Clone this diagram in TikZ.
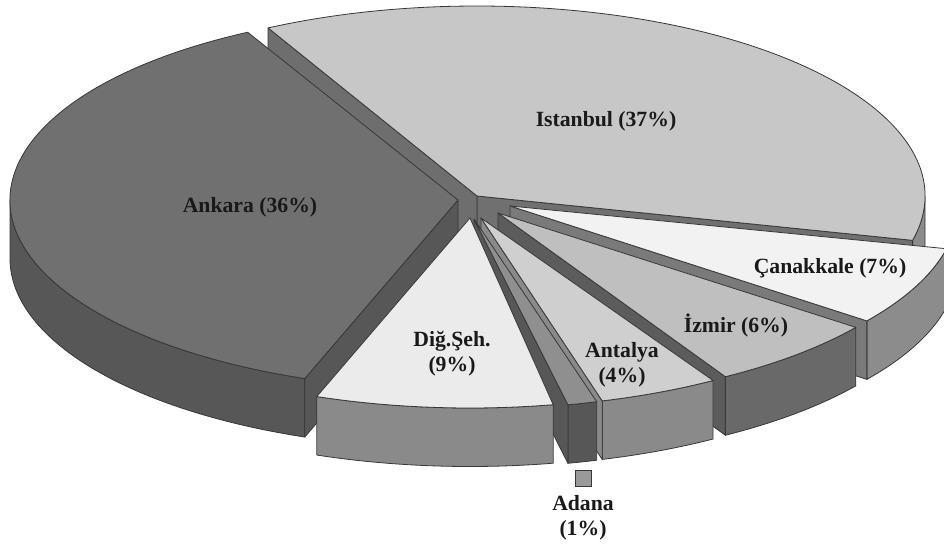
\documentclass[tikz,border=0pt]{standalone}
\usepackage{fontspec}
\setmainfont{Liberation Serif}
\begin{document}
\def\pieRX{448}
\def\pieRY{190}
\def\pieH{58.5}
\newcommand\sidewall[2]{%
  \filldraw[fill=#2,edgeline] (0,0) -- ({\pieRX*cos(#1)},{\pieRY*sin(#1)}) -- ({\pieRX*cos(#1)},{\pieRY*sin(#1)-\pieH}) -- (0,-\pieH) -- cycle;}
\newcommand\outerwall[3]{%
  \filldraw[fill=#3,edgeline] ({\pieRX*cos(#1)},{\pieRY*sin(#1)}) arc[start angle=#1,end angle=#2,x radius=\pieRX pt,y radius=\pieRY pt] -- ++(0,-\pieH) arc[start angle=#2,end angle=#1,x radius=\pieRX pt,y radius=\pieRY pt] -- cycle;}
\newcommand\topface[3]{%
  \filldraw[fill=#3,edgeline] (0,0) -- ({\pieRX*cos(#1)},{\pieRY*sin(#1)}) arc[start angle=#1,end angle=#2,x radius=\pieRX pt,y radius=\pieRY pt] -- cycle;}
\begin{tikzpicture}[x=1pt,y=1pt,
  edgeline/.style={draw=black!78,line width=0.8pt,line join=round},
  lbl/.style={font=\bfseries\fontsize{21.7}{25}\selectfont,align=center,inner sep=0pt,text=black!90}]
\useasboundingbox (0,0) rectangle (944,547);
\fill[white] (0,0) rectangle (944,547);
\clip (0,0) rectangle (944,547);
% Istanbul
\begin{scope}[shift={(477,351)}]
  \outerwall{-13.5}{0}{black!45}
  \sidewall{-13.5}{black!56}
  \sidewall{117.8}{black!57}
  \topface{-13.5}{117.8}{black!22}
\end{scope}
% Canakkale
\begin{scope}[shift={(510,341)}]
  \outerwall{322.8}{347}{black!45}
  \sidewall{322.8}{black!52}
  \topface{322.8}{347}{black!5}
\end{scope}
% Izmir
\begin{scope}[shift={(498,334)}]
  \outerwall{300.5}{323}{black!59}
  \sidewall{300.5}{black!64}
  \topface{300.5}{323}{black!25}
\end{scope}
% Antalya
\begin{scope}[shift={(481,329)}]
  \outerwall{285.7}{301.2}{black!46}
  \sidewall{285.7}{black!46}
  \topface{285.7}{301.2}{black!19}
\end{scope}
% Adana
\begin{scope}[shift={(474,328)}]
  \outerwall{282.1}{285.9}{black!66}
  \sidewall{282.1}{black!66}
  \topface{282.1}{285.9}{black!44}
\end{scope}
% Ankara
\begin{scope}[shift={(458,347)}]
  \outerwall{180}{250}{black!66}
  \sidewall{250}{black!66}
  \topface{118}{250}{black!56}
\end{scope}
% Dig.Seh.
\begin{scope}[shift={(470,329)}]
  \outerwall{250}{280.7}{black!46}
  \topface{250}{280.7}{black!8}
\end{scope}
% labels
\node[lbl] (istanbul) at (606,426) {Istanbul (37\%)};
\node[lbl] (ankara) at (250,340) {Ankara (36\%)};
\node[lbl] (canakkale) at (830,279) {Çanakkale (7\%)};
\node[lbl] (izmir) at (736,221) {İzmir (6\%)};
\node[lbl] (digseh) at (452,193) {Diğ.Şeh.\\(9\%)};
\node[lbl] (antalya) at (622,182.5) {Antalya\\(4\%)};
\node[draw=black!78,line width=0.8pt,fill=black!40,minimum size=16pt,inner sep=0pt] (adanakey) at (583,69) {};
\node[lbl] (adana) at (583,29) {Adana\\(1\%)};
\end{tikzpicture}
\end{document}
